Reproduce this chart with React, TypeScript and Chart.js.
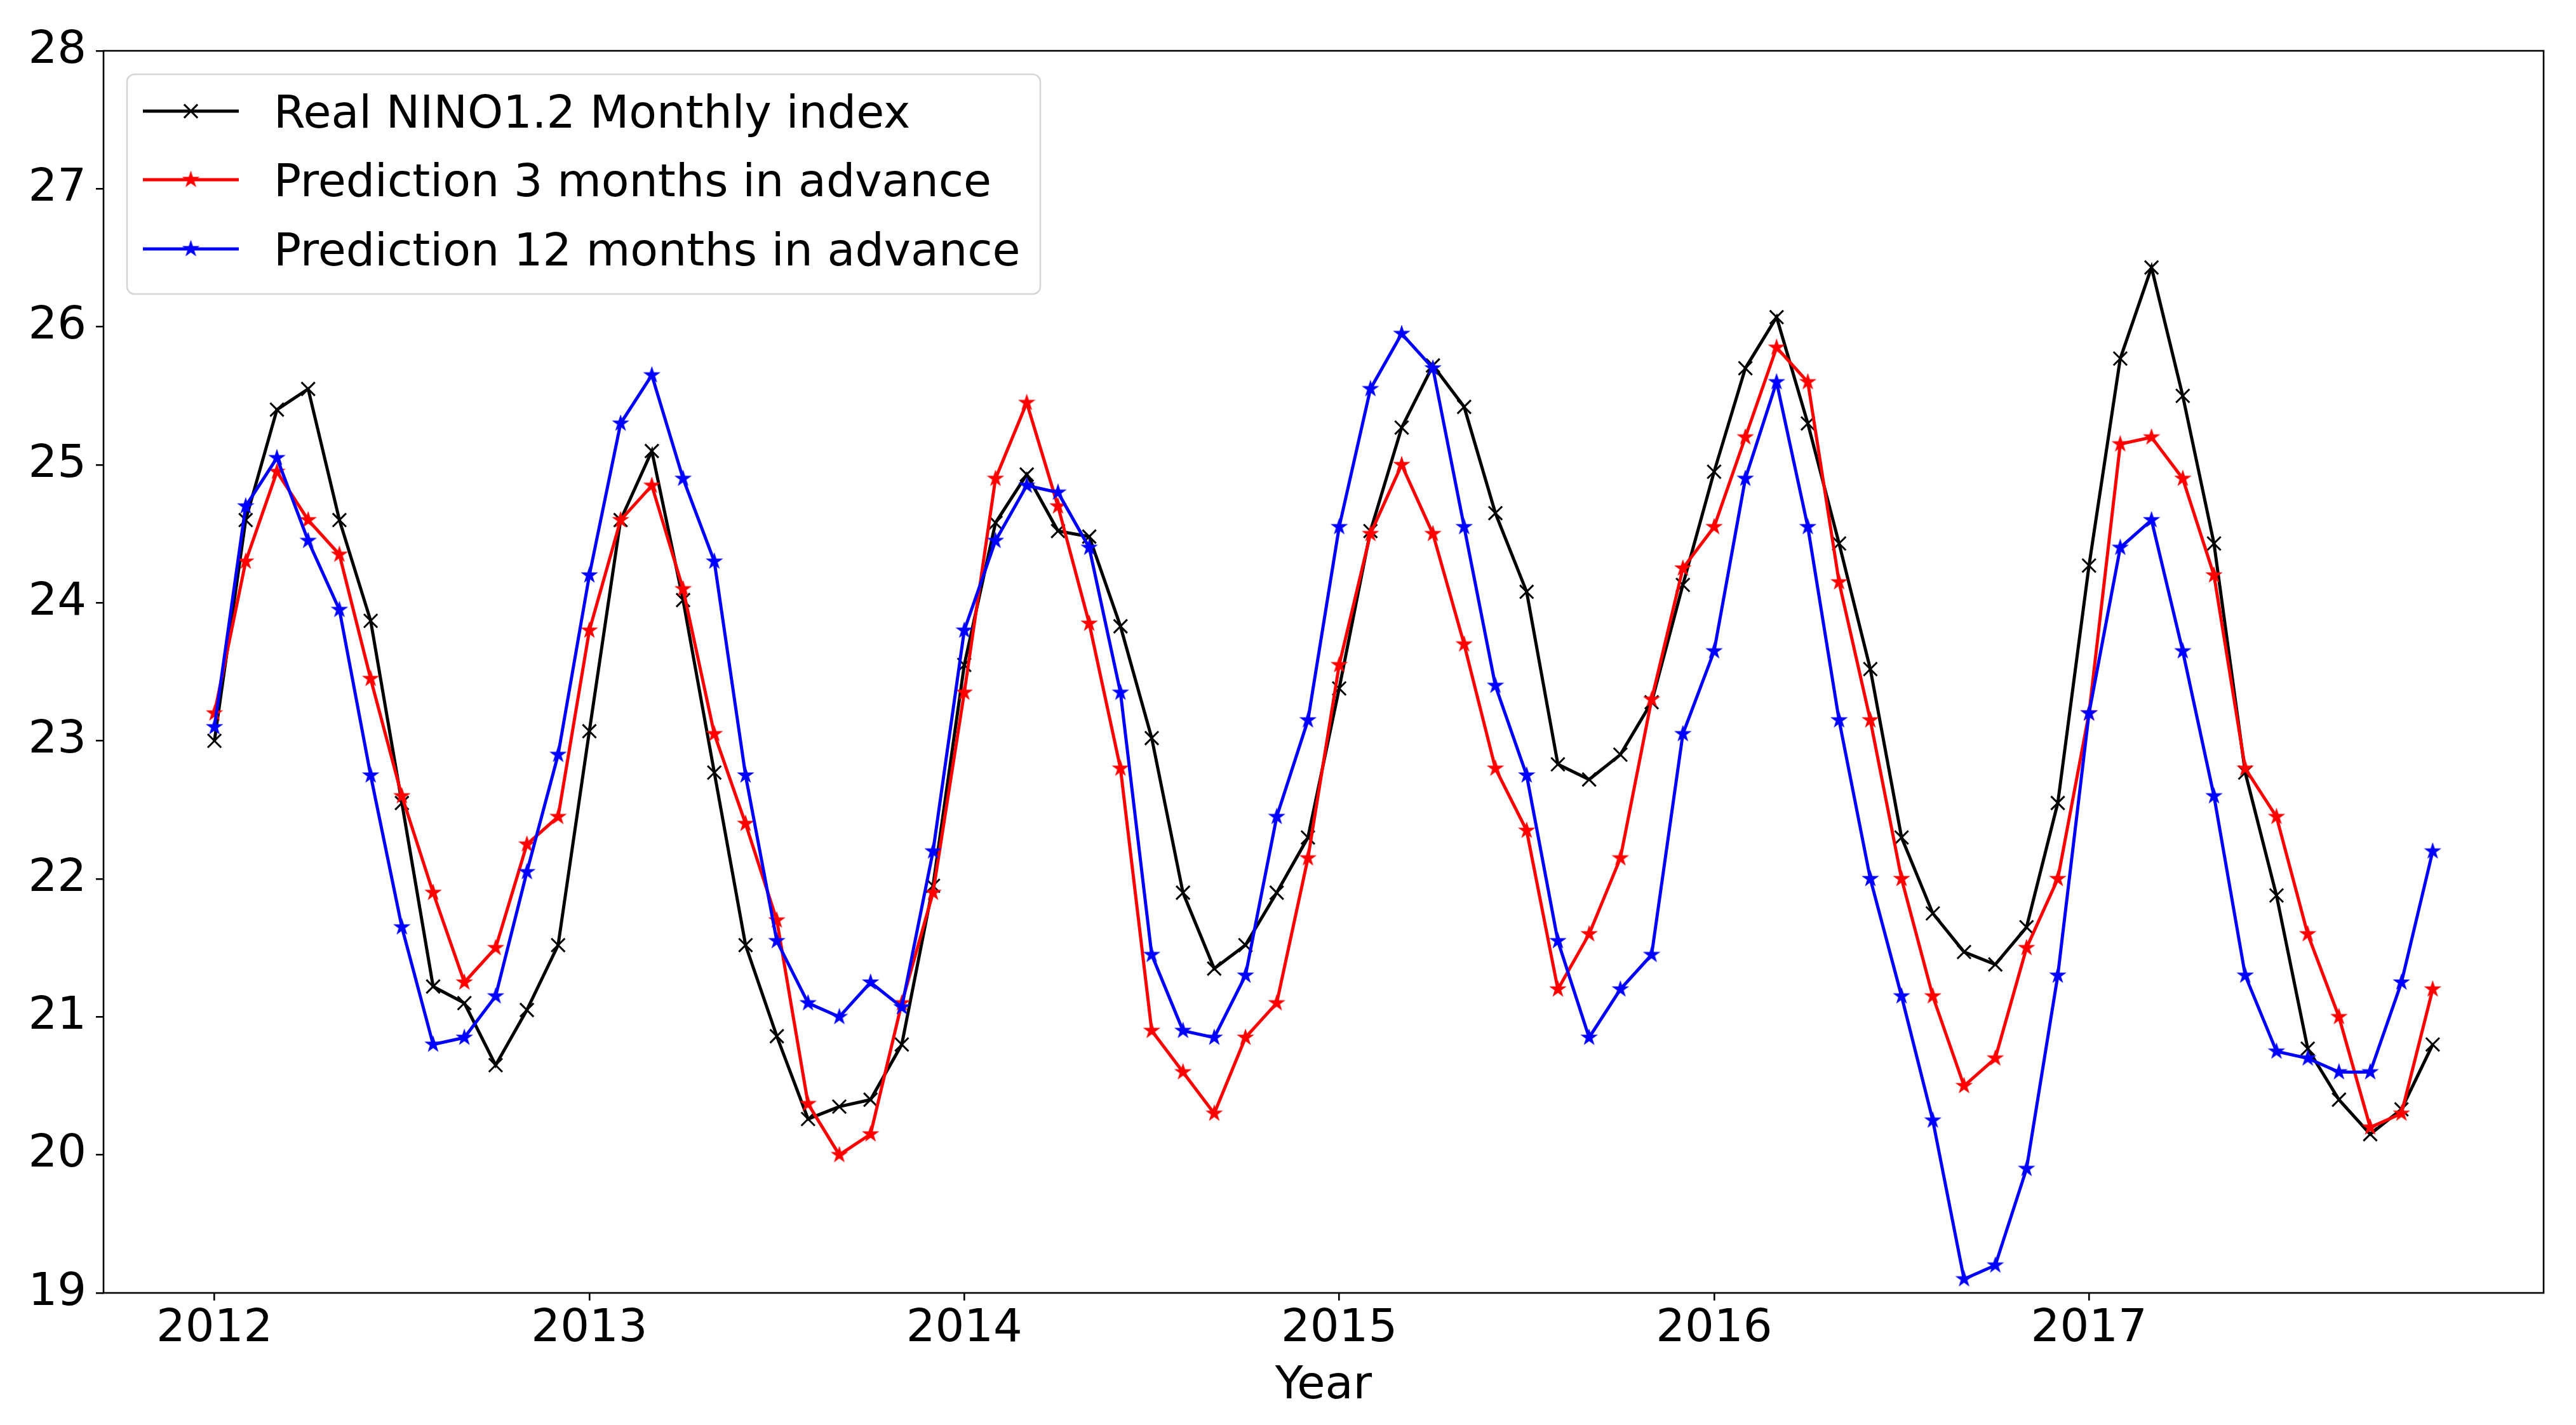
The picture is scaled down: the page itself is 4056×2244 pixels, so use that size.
import React, { useEffect, useRef } from 'react';
import { Chart, registerables } from 'chart.js';

Chart.register(...registerables);

// Monthly data, Jan 2012 .. Dec 2017 (index 0..71)
const realIndex: number[] = [
  23.0, 24.6, 25.4, 25.55, 24.6, 23.87, 22.55, 21.22, 21.1, 20.65, 21.05, 21.52,
  23.07, 24.6, 25.1, 24.02, 22.77, 21.52, 20.86, 20.26, 20.35, 20.4, 20.8, 21.95,
  23.55, 24.58, 24.93, 24.52, 24.48, 23.83, 23.02, 21.9, 21.35, 21.52, 21.9, 22.3,
  23.38, 24.52, 25.27, 25.72, 25.42, 24.65, 24.08, 22.83, 22.72, 22.9, 23.28, 24.13,
  24.95, 25.7, 26.07, 25.3, 24.43, 23.52, 22.3, 21.75, 21.47, 21.38, 21.65, 22.55,
  24.27, 25.77, 26.43, 25.5, 24.43, 22.77, 21.88, 20.77, 20.4, 20.15, 20.33, 20.8,
];

const pred3: number[] = [
  23.2, 24.3, 24.95, 24.6, 24.35, 23.45, 22.6, 21.9, 21.25, 21.5, 22.25, 22.45,
  23.8, 24.6, 24.85, 24.1, 23.05, 22.4, 21.7, 20.37, 20.0, 20.15, 21.1, 21.9,
  23.35, 24.9, 25.45, 24.7, 23.85, 22.8, 20.9, 20.6, 20.3, 20.85, 21.1, 22.15,
  23.55, 24.5, 25.0, 24.5, 23.7, 22.8, 22.35, 21.2, 21.6, 22.15, 23.3, 24.25,
  24.55, 25.2, 25.85, 25.6, 24.15, 23.15, 22.0, 21.15, 20.5, 20.7, 21.5, 22.0,
  23.2, 25.15, 25.2, 24.9, 24.2, 22.8, 22.45, 21.6, 21.0, 20.2, 20.3, 21.2,
];

const pred12: number[] = [
  23.1, 24.7, 25.05, 24.45, 23.95, 22.75, 21.65, 20.8, 20.85, 21.15, 22.05, 22.9,
  24.2, 25.3, 25.65, 24.9, 24.3, 22.75, 21.55, 21.1, 21.0, 21.25, 21.07, 22.2,
  23.8, 24.45, 24.85, 24.8, 24.4, 23.35, 21.45, 20.9, 20.85, 21.3, 22.45, 23.15,
  24.55, 25.55, 25.95, 25.7, 24.55, 23.4, 22.75, 21.55, 20.85, 21.2, 21.45, 23.05,
  23.65, 24.9, 25.6, 24.55, 23.15, 22.0, 21.15, 20.25, 19.1, 19.2, 19.9, 21.3,
  23.2, 24.4, 24.6, 23.65, 22.6, 21.3, 20.75, 20.7, 20.6, 20.6, 21.25, 22.2,
];

const seriesLabels: string[] = [
  'Real NINO1.2 Monthly index',
  'Prediction 3 months in advance',
  'Prediction 12 months in advance',
];

const yearTickLabels: string[] = ['2012', '2013', '2014', '2015', '2016', '2017'];
const yearTickMonths: number[] = [0, 12, 24, 36, 48, 60];

const FONT = 'DejaVu Sans';
const W = 4056;
const H = 2244;

function makeStar(color: string, R: number): HTMLCanvasElement {
  const size = Math.ceil(R * 2 + 4);
  const c = document.createElement('canvas');
  c.width = size;
  c.height = size;
  const ctx = c.getContext('2d')!;
  const cx = size / 2;
  const cy = size / 2;
  const r = R * 0.381966;
  ctx.beginPath();
  for (let i = 0; i < 10; i++) {
    const rad = i % 2 === 0 ? R : r;
    const a = -Math.PI / 2 + (i * Math.PI) / 5;
    const px = cx + rad * Math.cos(a);
    const py = cy + rad * Math.sin(a);
    if (i === 0) ctx.moveTo(px, py);
    else ctx.lineTo(px, py);
  }
  ctx.closePath();
  ctx.fillStyle = color;
  ctx.fill();
  ctx.lineWidth = 1.5;
  ctx.strokeStyle = color;
  ctx.stroke();
  return c;
}

export default function App() {
  const ref = useRef<HTMLCanvasElement | null>(null);

  useEffect(() => {
    const canvas = ref.current;
    if (!canvas) return;
    const redStar = makeStar('#ff0000', 12);
    const blueStar = makeStar('#0000ff', 12);

    const framePlugin = {
      id: 'frame',
      afterDatasetsDraw(chart: any) {
        const { ctx, chartArea } = chart;
        ctx.save();
        ctx.strokeStyle = '#000';
        ctx.lineWidth = 2.6;
        ctx.strokeRect(chartArea.left, chartArea.top, chartArea.right - chartArea.left, chartArea.bottom - chartArea.top);
        ctx.restore();
      },
    };

    const legendPlugin = {
      id: 'mplLegend',
      afterDraw(chart: any) {
        const { ctx } = chart;
        const bx = 200, by = 117, bw = 1438, bh = 346, br = 12;
        ctx.save();
        ctx.beginPath();
        ctx.moveTo(bx + br, by);
        ctx.lineTo(bx + bw - br, by);
        ctx.arcTo(bx + bw, by, bx + bw, by + br, br);
        ctx.lineTo(bx + bw, by + bh - br);
        ctx.arcTo(bx + bw, by + bh, bx + bw - br, by + bh, br);
        ctx.lineTo(bx + br, by + bh);
        ctx.arcTo(bx, by + bh, bx, by + bh - br, br);
        ctx.lineTo(bx, by + br);
        ctx.arcTo(bx, by, bx + br, by, br);
        ctx.closePath();
        ctx.fillStyle = 'rgba(255,255,255,0.8)';
        ctx.fill();
        ctx.strokeStyle = '#d6d6d6';
        ctx.lineWidth = 2.6;
        ctx.stroke();

        const rows = [175, 283, 392];
        chart.data.datasets.forEach((ds: any, i: number) => {
          const y = rows[i];
          ctx.strokeStyle = ds.borderColor;
          ctx.lineWidth = ds.borderWidth;
          ctx.beginPath();
          ctx.moveTo(225, y);
          ctx.lineTo(376, y);
          ctx.stroke();
          const mx = 300.5;
          if (ds.pointStyle === 'crossRot') {
            const d = ds.pointRadius * Math.SQRT1_2;
            ctx.lineWidth = ds.pointBorderWidth;
            ctx.beginPath();
            ctx.moveTo(mx - d, y - d);
            ctx.lineTo(mx + d, y + d);
            ctx.moveTo(mx + d, y - d);
            ctx.lineTo(mx - d, y + d);
            ctx.stroke();
          } else if (ds.pointStyle instanceof HTMLCanvasElement) {
            const img = ds.pointStyle as HTMLCanvasElement;
            ctx.drawImage(img, mx - img.width / 2, y - img.height / 2);
          }
          ctx.fillStyle = '#000';
          ctx.font = `71.5px "${FONT}"`;
          ctx.textAlign = 'left';
          ctx.textBaseline = 'alphabetic';
          ctx.fillText(ds.label, 431, y + 26);
        });
        ctx.restore();
      },
    };

    const tickFont = { family: FONT, size: 72 };

    const chart = new Chart(canvas, {
      type: 'line',
      data: {
        datasets: [
          {
            label: seriesLabels[0],
            data: realIndex.map((v, i) => ({ x: i, y: v })),
            borderColor: '#000000',
            backgroundColor: '#000000',
            borderWidth: 5,
            pointStyle: 'crossRot',
            pointRadius: 15,
            pointBorderWidth: 3,
            pointBorderColor: '#000000',
            tension: 0,
            order: 3,
          },
          {
            label: seriesLabels[1],
            data: pred3.map((v, i) => ({ x: i, y: v })),
            borderColor: '#ff0000',
            backgroundColor: '#ff0000',
            borderWidth: 5,
            pointStyle: redStar,
            pointRadius: 12,
            tension: 0,
            order: 2,
          },
          {
            label: seriesLabels[2],
            data: pred12.map((v, i) => ({ x: i, y: v })),
            borderColor: '#0000ff',
            backgroundColor: '#0000ff',
            borderWidth: 5,
            pointStyle: blueStar,
            pointRadius: 12,
            tension: 0,
            order: 1,
          },
        ] as any,
      },
      options: {
        animation: false,
        responsive: false,
        devicePixelRatio: 1,
        layout: { padding: { top: 80, right: 51, left: 0, bottom: 0 } },
        plugins: {
          legend: { display: false },
          tooltip: { enabled: false },
        },
        scales: {
          x: {
            type: 'linear',
            min: -3.55,
            max: 74.55,
            afterBuildTicks: (scale: any) => {
              scale.ticks = yearTickMonths.map((v) => ({ value: v }));
            },
            afterFit: (scale: any) => {
              scale.height = 208;
            },
            ticks: {
              autoSkip: false,
              maxRotation: 0,
              color: '#000',
              font: tickFont,
              padding: 2,
              callback: (value: any) => {
                const idx = yearTickMonths.indexOf(Number(value));
                return idx >= 0 ? yearTickLabels[idx] : '';
              },
            },
            grid: {
              display: true,
              drawOnChartArea: false,
              drawTicks: true,
              tickLength: 12,
              color: '#000',
              lineWidth: 2.6,
            },
            border: { display: false },
            title: {
              display: true,
              text: 'Year',
              color: '#000',
              font: tickFont,
              padding: { top: 0, bottom: 18 },
            },
          },
          y: {
            type: 'linear',
            min: 19,
            max: 28,
            afterFit: (scale: any) => {
              scale.width = 163;
            },
            ticks: {
              stepSize: 1,
              color: '#000',
              font: tickFont,
              padding: 15,
            },
            grid: {
              display: true,
              drawOnChartArea: false,
              drawTicks: true,
              tickLength: 12,
              color: '#000',
              lineWidth: 2.6,
            },
            border: { display: false },
          },
        },
      } as any,
      plugins: [framePlugin, legendPlugin],
    });

    return () => {
      chart.destroy();
    };
  }, []);

  return (
    <div style={{ position: 'fixed', left: 0, top: 0, width: W, height: H, background: '#fff' }}>
      <canvas ref={ref} width={W} height={H} style={{ width: W, height: H, display: 'block' }} />
    </div>
  );
}
